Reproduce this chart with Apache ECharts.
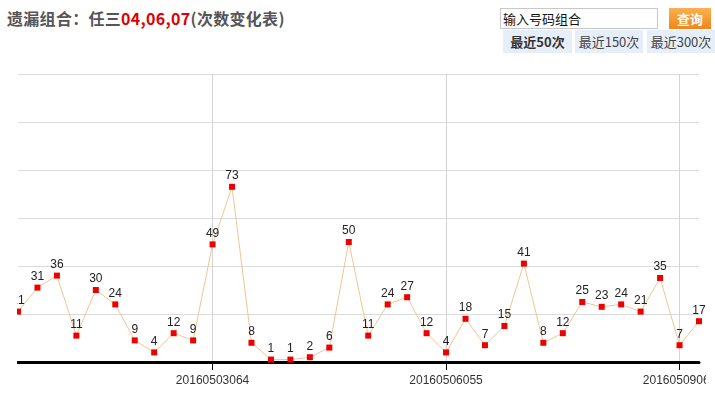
<!DOCTYPE html>
<html>
<head>
<meta charset="utf-8">
<script src="https://cdn.jsdelivr.net/npm/echarts@6/dist/echarts.min.js"></script>
<style>
  body { margin: 0; background: #fff; font-family: "Noto Sans CJK SC", "Liberation Sans", sans-serif; }
  #page { position: relative; width: 715px; height: 398px; overflow: hidden; }
  /* 标题 */
  #title { position: absolute; left: 7px; top: 6px; font-size: 16px; font-weight: bold; color: #555; white-space: nowrap; letter-spacing: 0.3px; }
  #title .num { color: #e00000; }
  /* 查询框和按钮 */
  #search { position: absolute; left: 500px; top: 8px; width: 154px; height: 19px; border: 1px solid #c8c8c8;
            font-size: 13px; line-height: 19px; color: #111; padding-left: 2px; box-sizing: content-box; }
  #query { position: absolute; left: 669px; top: 8px; width: 42px; height: 21px; line-height: 21px; text-align: center;
           font-size: 13px; font-weight: bold; color: #fff; background: linear-gradient(#fbb052, #f0861a); }
  .tab { position: absolute; top: 30px; height: 23px; line-height: 23px; text-align: center; font-size: 13px;
         color: #444; background: #e6eef9; }
  #chart { position: absolute; left: 17px; top: 0; width: 689px; height: 398px; }
</style>
</head>
<body>
<div id="page">
  <div id="title">遗漏组合：任三<span class="num">04,06,07</span>(次数变化表)</div>
  <div id="search">输入号码组合</div>
  <div id="query">查询</div>
  <div class="tab" style="left:503px;width:69px;font-weight:bold;color:#333;">最近50次</div>
  <div class="tab" style="left:575px;width:68px;">最近150次</div>
  <div class="tab" style="left:647px;width:68px;">最近300次</div>
  <div id="chart"></div>
</div>
<script>
// 期号（横轴类目），只显示第 10、22、34 个
const periods = [
  '20160501012', '20160501037', '20160501068', '20160501075', '20160502023', '20160502049',
  '20160502054', '20160502062', '20160502071', '20160503005', '20160503064', '20160504053',
  '20160504058', '20160504066', '20160504074', '20160505003', '20160505011', '20160505058',
  '20160505067', '20160506006', '20160506031', '20160506051', '20160506055', '20160506071',
  '20160507006', '20160507019', '20160507058', '20160507065', '20160507075', '20160508018',
  '20160508039', '20160508061', '20160509001', '20160509034', '20160509063', '20160509078'
];
// 每次出现时的遗漏次数
const omissions = [
  21, 31, 36, 11, 30, 24, 9, 4, 12, 9, 49, 73,
  8, 1, 1, 2, 6, 50, 11, 24, 27, 12, 4, 18,
  7, 15, 41, 8, 12, 25, 23, 24, 21, 35, 7, 17
];
// 纵轴范围
const yMin = 0;
const yMax = 120;
const yStep = 20;

const labelEvery = 12;
const labelOffset = 10;
const showIdx = (idx) => idx % labelEvery === labelOffset;

const chart = echarts.init(document.getElementById('chart'));
chart.setOption({
  animation: false,
  grid: { left: 1, right: 7, top: 74, height: 288, outerBoundsMode: 'none', containLabel: false },
  xAxis: {
    type: 'category',
    data: periods,
    boundaryGap: false,
    axisLine: { lineStyle: { color: '#000', width: 3 } },
    axisTick: { alignWithLabel: true, interval: showIdx, length: 8, lineStyle: { color: '#000' } },
    axisLabel: {
      interval: showIdx, color: '#333', fontSize: 12, margin: 13, hideOverlap: false,
      fontFamily: '"Liberation Sans", Arial, sans-serif'
    },
    splitLine: { show: true, interval: showIdx, lineStyle: { color: '#d4d4d4' } }
  },
  yAxis: {
    type: 'value',
    min: yMin,
    max: yMax,
    interval: yStep,
    axisLine: { show: false },
    axisTick: { show: false },
    axisLabel: { show: false },
    splitLine: { lineStyle: { color: '#dadada' } }
  },
  series: [{
    type: 'line',
    data: omissions,
    symbol: 'rect',
    symbolSize: 6,
    itemStyle: { color: '#ee0000' },
    lineStyle: { color: '#f1c592', width: 1 },
    label: {
      show: true, position: 'top', distance: 2, color: '#222', fontSize: 12,
      fontFamily: '"Liberation Sans", Arial, sans-serif'
    }
  }]
});
</script>
</body>
</html>
